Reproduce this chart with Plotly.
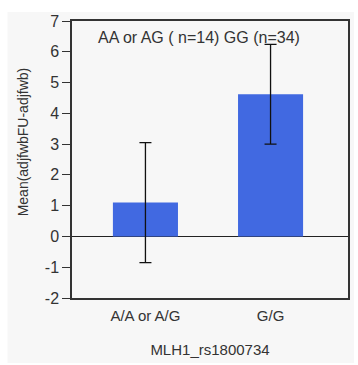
import plotly.graph_objects as go

categories = ["A/A or A/G", "G/G"]
means = [1.10, 4.62]
errors = [1.95, 1.62]
y_ticks = [-2, -1, 0, 1, 2, 3, 4, 5, 6, 7]
y_tick_labels = ["-2", "-1", "0", "1", "2", "3", "4", "5", "6", "7"]
annotation_text = "AA or AG ( n=14) GG (n=34)"
x_title = "MLH1_rs1800734"
y_title = "Mean(adjfwbFU-adjfwb)"

W, H = 358, 365
L, R, T, B = 72, 8, 21, 67
pw, ph = W - L - R, H - T - B

def px(x):
    return (x - L) / pw

def py(y):
    return (H - B - y) / ph

fam = "Liberation Sans, Arial, sans-serif"
col = "#333333"

fig = go.Figure()
fig.add_trace(go.Bar(
    x=[0, 1], y=means,
    width=0.52,
    marker=dict(color="#4169E1", line=dict(width=0)),
    error_y=dict(type="data", array=errors, visible=True, color="#111111", thickness=1.3, width=6),
))

fig.update_layout(
    width=W, height=H,
    margin=dict(l=L, r=R, t=T, b=B),
    paper_bgcolor="white",
    plot_bgcolor="white",
    showlegend=False,
    font=dict(family=fam, size=14, color=col),
    xaxis=dict(
        range=[-0.587, 1.619],
        tickmode="array", tickvals=[0, 1], ticktext=categories,
        ticks="outside", ticklen=3, tickcolor="rgba(0,0,0,0)",
        showgrid=False, zeroline=False,
        showline=True, linecolor="#333333", linewidth=1.5, mirror=True,
        title=dict(text=x_title, standoff=22, font=dict(family=fam, size=15, color=col)),
        tickfont=dict(family=fam, size=15, color=col),
    ),
    yaxis=dict(
        range=[-2, 7],
        tickmode="array", tickvals=y_ticks, ticktext=y_tick_labels,
        ticks="outside", ticklen=8, tickcolor="#333333", tickwidth=1.2,
        showgrid=False,
        zeroline=True, zerolinecolor="#222222", zerolinewidth=1.2,
        showline=True, linecolor="#333333", linewidth=1.5, mirror=True,
        tickfont=dict(family=fam, size=16, color=col),
    ),
    shapes=[dict(
        type="rect", xref="paper", yref="paper", layer="below",
        x0=px(7), x1=px(356), y0=py(363), y1=py(12),
        fillcolor="#f7f7f7", line=dict(width=0),
    )],
    annotations=[
        dict(
            text=annotation_text, xref="paper", yref="paper",
            x=px(200), y=py(37), xanchor="center", yanchor="middle",
            showarrow=False, font=dict(family=fam, size=16, color=col),
        ),
        dict(
            text=y_title, xref="paper", yref="paper",
            x=px(23), y=py(142), xanchor="center", yanchor="middle",
            textangle=-90, showarrow=False,
            font=dict(family=fam, size=14, color=col),
        ),
    ],
)

fig.write_html("out.html")
